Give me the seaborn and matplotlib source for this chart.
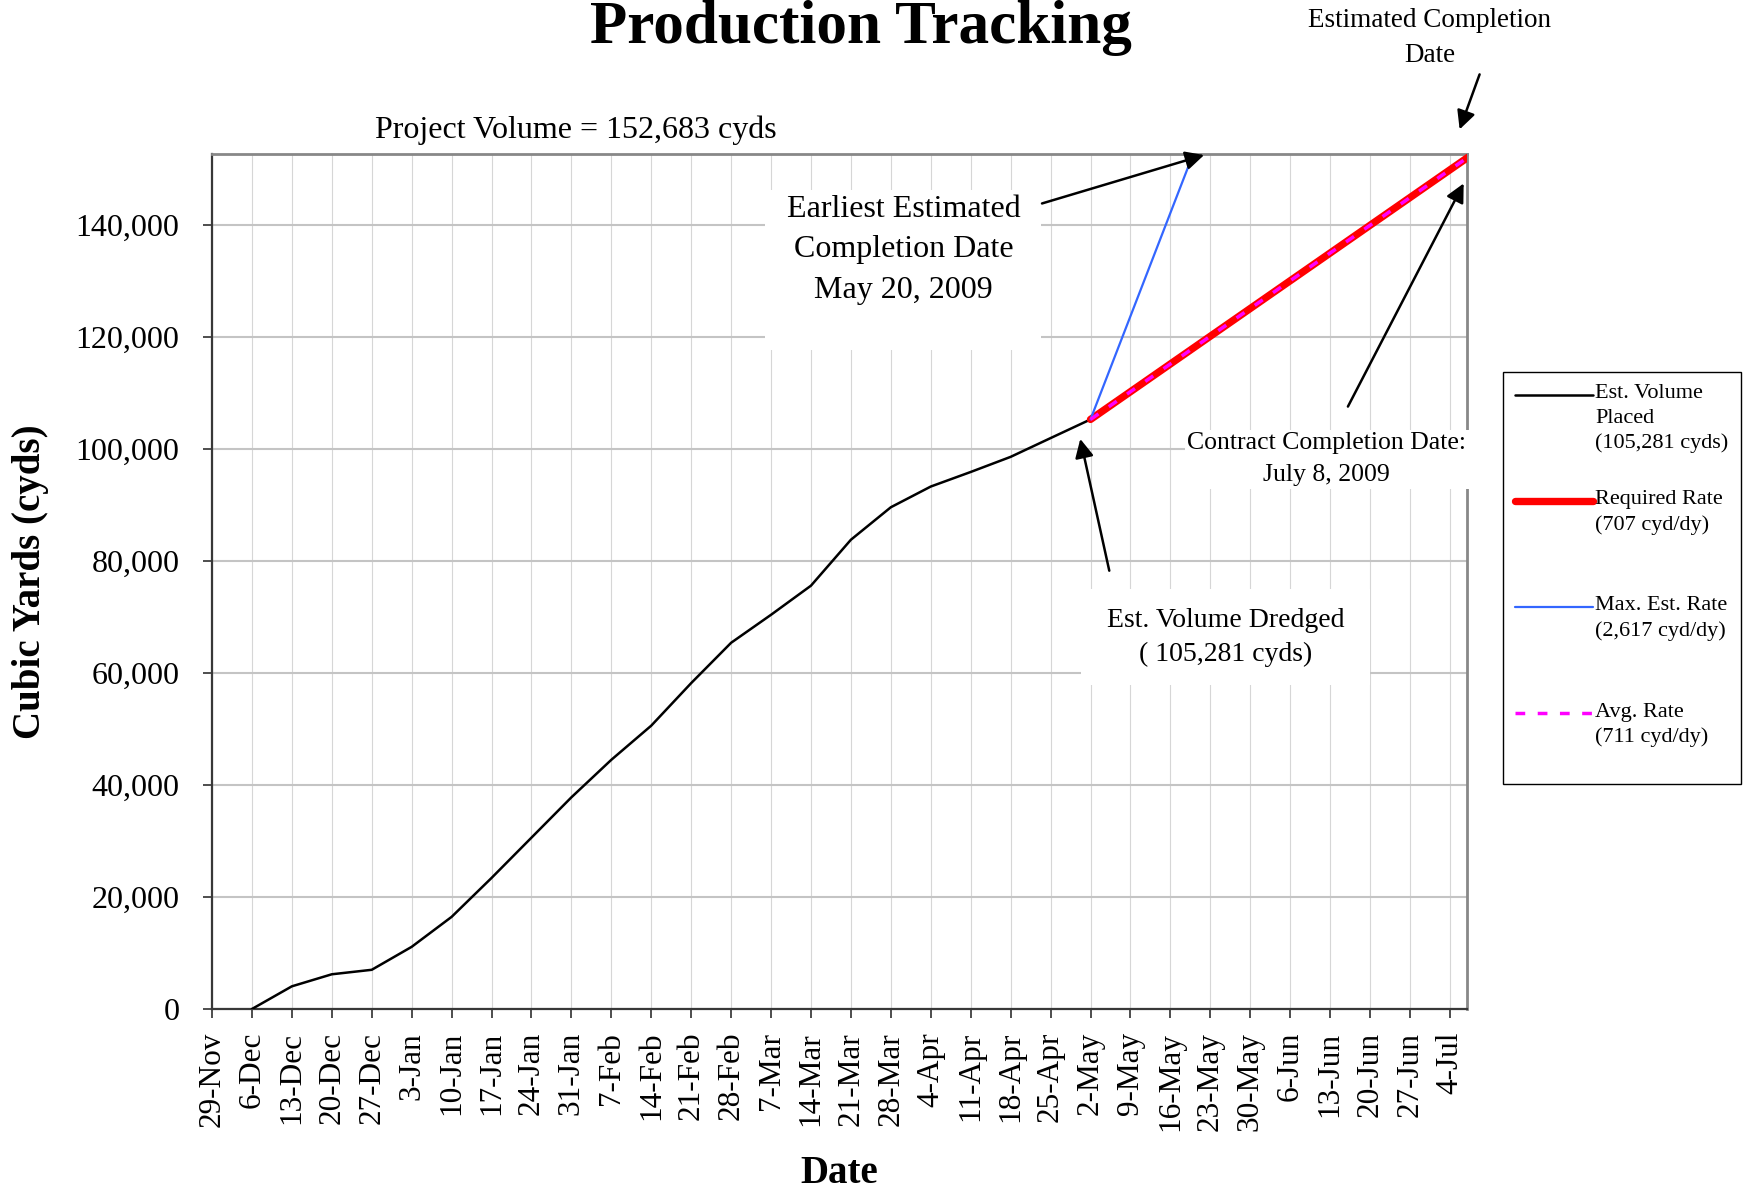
import numpy as np
import pandas as pd
import matplotlib
matplotlib.use('Agg')
import matplotlib.pyplot as plt
import matplotlib.dates as mdates
import matplotlib.ticker as mticker
import seaborn as sns

# 数据
placed_dates = ['2008-12-06', '2008-12-13', '2008-12-20', '2008-12-27',
                '2009-01-03', '2009-01-10', '2009-01-17', '2009-01-24', '2009-01-31',
                '2009-02-07', '2009-02-14', '2009-02-21', '2009-02-28',
                '2009-03-07', '2009-03-14', '2009-03-21', '2009-03-28',
                '2009-04-04', '2009-04-11', '2009-04-18', '2009-04-25', '2009-05-02']
placed_volume = [0, 4050, 6200, 7000, 11100, 16450, 23400, 30600, 37800,
                 44500, 50600, 58200, 65400, 70400, 75600, 83800, 89600,
                 93300, 95900, 98600, 101950, 105281]

required_dates = ['2009-05-02', '2009-07-08']
required_volume = [105281, 152683]
maxrate_dates = ['2009-05-02', '2009-05-20']
maxrate_volume = [105281, 152683]
avg_dates = ['2009-05-02', '2009-07-08']
avg_volume = [105281, 152683]

project_volume = 152683
y_ticks = [0, 20000, 40000, 60000, 80000, 100000, 120000, 140000]
x_start, x_end = '2008-11-29', '2009-07-07'
tick_dates = pd.date_range('2008-11-29', '2009-07-04', freq='7D')

legend_labels = ['Est. Volume\nPlaced\n(105,281 cyds)',
                 'Required Rate\n(707 cyd/dy)\n ',
                 'Max. Est. Rate\n(2,617 cyd/dy)\n ',
                 'Avg. Rate\n(711 cyd/dy)\n ']

# 样式
sns.set_style('ticks')
plt.rcParams['font.family'] = ['Liberation Serif', 'DejaVu Serif']
for key in ['text.color', 'axes.labelcolor', 'xtick.color', 'ytick.color']:
    plt.rcParams[key] = 'black'

W, H = 1750, 1189
fig = plt.figure(figsize=(W / 100, H / 100), dpi=100)
ax = fig.add_axes([212 / W, 1 - 1009 / H, (1467 - 212) / W, (1009 - 154) / H])

sns.lineplot(x=pd.to_datetime(placed_dates), y=placed_volume, ax=ax, color='black',
             linewidth=1.8, label=legend_labels[0], zorder=3)
sns.lineplot(x=pd.to_datetime(required_dates), y=required_volume, ax=ax, color='#ff0000',
             linewidth=5.3, solid_capstyle='round', label=legend_labels[1], zorder=4)
sns.lineplot(x=pd.to_datetime(maxrate_dates), y=maxrate_volume, ax=ax, color='#3366ff',
             linewidth=1.6, label=legend_labels[2], zorder=5)
sns.lineplot(x=pd.to_datetime(avg_dates), y=avg_volume, ax=ax, color='#ff00ff',
             linewidth=2.5, linestyle=(0, (2.8, 3.6)), label=legend_labels[3], zorder=6)

# 坐标轴
ax.set_xlim(pd.Timestamp(x_start), pd.Timestamp(x_end))
ax.set_ylim(0, project_volume)
ax.set_xticks(tick_dates)
ax.xaxis.set_major_formatter(mdates.DateFormatter('%-d-%b'))
ax.set_yticks(y_ticks)
ax.yaxis.set_major_formatter(mticker.StrMethodFormatter('{x:,.0f}'))
ax.tick_params(axis='x', direction='out', length=6.5, width=1.2, color='#303030',
               labelsize=22.5, pad=10, labelrotation=90)
ax.tick_params(axis='y', direction='out', length=6.5, width=1.2, color='#303030',
               labelsize=23, pad=17)

ax.yaxis.grid(True, color='#c4c4c4', lw=1.5)
ax.xaxis.grid(True, color='#d6d6d6', lw=0.8)
ax.set_axisbelow(True)
for side in ['left', 'bottom']:
    ax.spines[side].set_color('#383838')
    ax.spines[side].set_linewidth(1.6)
for side in ['top', 'right']:
    ax.spines[side].set_color('#888888')
    ax.spines[side].set_linewidth(2)

ax.set_xlabel('Date', fontsize=28, fontweight='bold')
ax.xaxis.set_label_coords(0.5, -0.171)
ax.set_ylabel('Cubic Yards (cyds)', fontsize=28, fontweight='bold')
ax.yaxis.set_label_coords(-0.130, 0.5)

# 标题
fig.text(861 / W, 1 - 43 / H, 'Production Tracking', fontsize=44, fontweight='bold',
         ha='center', va='baseline')
fig.text(576 / W, 1 - 138 / H, 'Project Volume = 152,683 cyds', fontsize=23,
         ha='center', va='baseline')


def dn(s):
    return mdates.date2num(pd.Timestamp(s))


ax.text(dn('2009-03-30 05:00'), 145400, 'Earliest Estimated\nCompletion Date\nMay 20, 2009\n ',
        fontsize=23, ha='center', va='top', linespacing=1.52,
        bbox=dict(boxstyle='square,pad=0.66', facecolor='white', edgecolor='none',
                  mutation_aspect=0.25), zorder=7)
ax.text(dn('2009-05-25 17:00'), 66400, 'Est. Volume Dredged\n( 105,281 cyds)',
        fontsize=20, ha='center', va='center', linespacing=1.45,
        bbox=dict(boxstyle='square,pad=0.92', facecolor='white', edgecolor='none',
                  mutation_aspect=0.72), zorder=7)
ax.text(dn('2009-06-12 10:00'), 98150, 'Contract Completion Date:\nJuly 8, 2009',
        fontsize=18.5, ha='center', va='center', linespacing=1.6,
        bbox=dict(boxstyle='square,pad=0.1', facecolor='white', edgecolor='none'), zorder=7)
ax.text(dn('2009-06-30 12:00'), 173400, 'Estimated Completion\nDate',
        fontsize=19.5, ha='center', va='center', linespacing=1.5, clip_on=False)

arrow = dict(arrowstyle='-|>', color='black', lw=1.8, mutation_scale=28,
             shrinkA=0, shrinkB=0)
arrows = [
    (('2009-04-23 12:00', 143850), ('2009-05-21 22:00', 152500)),
    (('2009-05-05 07:00', 78270), ('2009-04-30 05:00', 101800)),
    (('2009-06-16 03:00', 107580), ('2009-07-06 10:00', 147430)),
    (('2009-07-09 05:00', 166900), ('2009-07-05 17:00', 157080)),
]
for (t_d, t_v), (h_d, h_v) in arrows:
    ax.annotate('', xy=(dn(h_d), h_v), xytext=(dn(t_d), t_v), arrowprops=arrow,
                annotation_clip=False, zorder=8)

# 图例
handles, _ = ax.get_legend_handles_labels()
leg = ax.legend(handles, legend_labels, loc='upper left',
                bbox_to_anchor=(1503 / W, 1 - 372 / H), bbox_transform=fig.transFigure,
                borderaxespad=0, fontsize=16, handlelength=3.5, handletextpad=0.1,
                labelspacing=1.66, borderpad=0.55, frameon=True, fancybox=False,
                framealpha=1, edgecolor='black')
leg.get_frame().set_linewidth(1.0)
for t in leg.get_texts():
    t.set_linespacing(1.4)

# 图例线条对齐第一行文字
fig.canvas.draw()
for line, text in zip(leg.get_lines(), leg.get_texts()):
    tb = text.get_window_extent()
    n_lines = text.get_text().count('\n') + 1
    target = tb.y1 - 0.45 * tb.height / n_lines
    cur = line.get_transform().transform((0, line.get_ydata()[0]))[1]
    line.set_ydata(np.asarray(line.get_ydata()) + (target - cur) * 72 / fig.dpi)

fig.savefig('out.png', dpi=100)
